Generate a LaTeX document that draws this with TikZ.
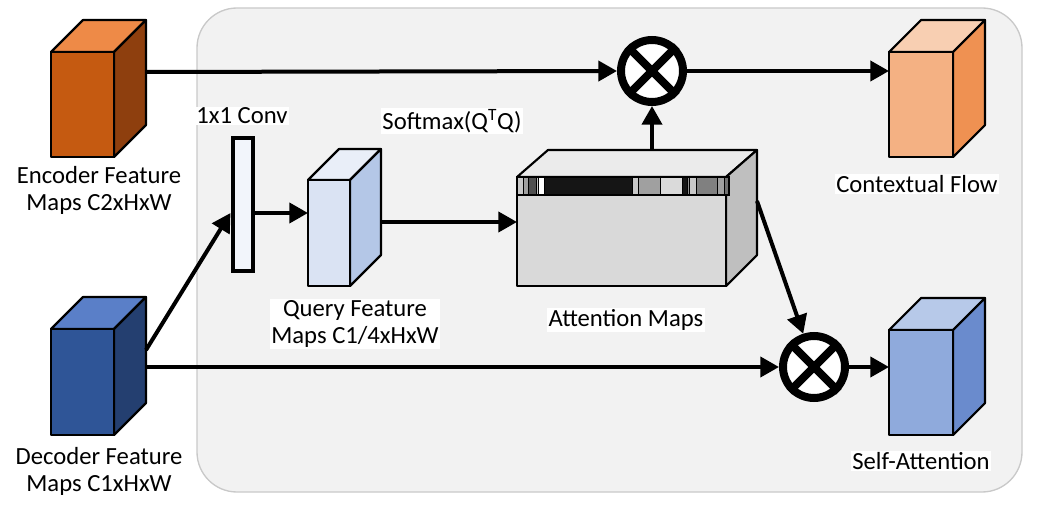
\documentclass[tikz,border=0pt]{standalone}
\usepackage{fontspec}
\setmainfont{Carlito}
\usetikzlibrary{arrows.meta}
\definecolor{encF}{HTML}{C55A11}\definecolor{encT}{HTML}{EE8A47}\definecolor{encS}{HTML}{8E3F0E}
\definecolor{decF}{HTML}{2F5597}\definecolor{decT}{HTML}{5A7FC8}\definecolor{decS}{HTML}{243F70}
\definecolor{ctxF}{HTML}{F4B183}\definecolor{ctxT}{HTML}{F8CFB2}\definecolor{ctxS}{HTML}{EF9152}
\definecolor{selF}{HTML}{8FAADC}\definecolor{selT}{HTML}{B7C9E9}\definecolor{selS}{HTML}{6A8BCD}
\definecolor{qF}{HTML}{DAE3F3}\definecolor{qT}{HTML}{E9EEF8}\definecolor{qS}{HTML}{B4C7E7}
\definecolor{aF}{HTML}{D9D9D9}\definecolor{aT}{HTML}{EBEBEB}\definecolor{aS}{HTML}{BFBFBF}
\definecolor{panel}{HTML}{F2F2F2}\definecolor{panelb}{HTML}{C9C9C9}
\tikzset{
  cubeline/.style={draw=black, line width=1.6pt, line join=round},
  conn/.style={line width=3pt, -{Triangle[length=14pt,width=15pt]}},
  lbl/.style={font=\fontsize{18.5}{20.25}\selectfont, align=center, inner sep=1pt},
  wlbl/.style={lbl, fill=white},
  otimesc/.style={circle, draw=black, fill=white, line width=6pt, minimum size=62*0.75pt, inner sep=0pt},
}
\newcommand{\drawcube}[9]{%
  % #1 name, #2 x, #3 y, #4 w, #5 h, #6 d, #7 front, #8 top, #9 side
  \filldraw[cubeline, fill=#8] (#2,#3) -- ++(#6,-#6) -- ++(#4,0) -- ({#2+#4},#3) -- cycle;
  \filldraw[cubeline, fill=#9] ({#2+#4},#3) -- ++(#6,-#6) -- ++(0,#5) -- ({#2+#4},{#3+#5}) -- cycle;
  \filldraw[cubeline, fill=#7] (#2,#3) rectangle ({#2+#4},{#3+#5});
  \coordinate (#1-nw) at (#2,#3);
}
\begin{document}
\begin{tikzpicture}[x=0.75pt,y=-0.75pt]
\useasboundingbox (0,0) rectangle (1038,516);
% panel
\filldraw[fill=panel, draw=panelb, line width=1pt, rounded corners=30pt] (197,8) rectangle (1022,492);

% cubes
\drawcube{enc}{51}{52}{63}{105}{32}{encF}{encT}{encS}
\drawcube{dec}{51}{329}{63}{106}{32}{decF}{decT}{decS}
\drawcube{ctx}{889}{52}{64}{105}{32}{ctxF}{ctxT}{ctxS}
\drawcube{sel}{889}{330}{64}{105}{32}{selF}{selT}{selS}
\drawcube{qry}{308}{180}{42}{106}{31}{qF}{qT}{qS}

% attention box
\filldraw[cubeline, fill=aT] (517,177) -- (548,150) -- (757,150) -- (726,177) -- cycle;
\filldraw[cubeline, fill=aS] (726,177) -- (757,150) -- (757,255) -- (726,286) -- cycle;
\filldraw[cubeline, fill=aF] (517,177) rectangle (726,286);
\coordinate (att-top) at (652,150);
\coordinate (att-w) at (517,222);
\coordinate (att-e) at (757,201);
% stripe
\begin{scope}[line width=0.6pt]
\foreach \a/\b/\c in {517/523/C8C8C8, 523/528/A0A0A0, 528/536/505050, 536/538/C8C8C8, 538/544/FFFFFF, 544/632/151515, 632/638/C8C8C8, 638/660/A0A0A0, 660/682/DADADA, 682/687/151515, 687/689/909090, 689/696/C8C8C8, 696/717/808080, 717/724/A0A0A0, 724/729/707070}{
  \definecolor{tmpc}{HTML}{\c}
  \filldraw[fill=tmpc, draw=black] (\a,177) rectangle (\b,195);
}
\end{scope}
\draw[line width=1.6pt] (517,177) rectangle (729,195);

% conv
\node[draw=black, line width=3pt, fill=qT!60!white, minimum width=20*0.75pt, minimum height=133*0.75pt, inner sep=0pt] (conv) at (242.5,205) {};

% otimes
\node[otimesc] (m1) at (652,71) {};
\node[otimesc] (m2) at (814,367) {};
\foreach \m in {m1,m2}{
  \draw[line width=6pt] (\m.45) -- (\m.225);
  \draw[line width=6pt] (\m.135) -- (\m.315);
}

% connectors
\coordinate (enc-out) at (146,72);
\coordinate (dec-out) at (146,367);
\coordinate (dec-up) at (146,350);
\draw[conn] (enc-out) -- (m1.west);
\draw[conn] (m1.east) -- (ctx-nw |- m1.east);
\draw[conn] (att-top) -- (m1.south);
\draw[conn] (dec-out) -- (m2.west);
\draw[conn] (m2.east) -- (sel-nw |- m2.east);
\draw[conn] (dec-up) -- (conv.west |- 0,213);
\draw[conn] (conv.east |- 0,213) -- (qry-nw |- 0,213);
\draw[conn] (381,222) -- (att-w);
\draw[conn] (att-e) -- (m2.108);

% labels
\node[lbl] (encl) at (99,190) {Encoder Feature\\Maps C2xHxW};
\node[lbl] (decl) at (99,471) {Decoder Feature\\Maps C1xHxW};
\node[wlbl] (convl) at (242,116) {1x1 Conv};
\node[wlbl] (softl) at (452,121) {Softmax(Q\textsuperscript{T}Q)};
\node[wlbl] (qryl) at (355,324) {Query Feature\\Maps C1/4xHxW};
\node[wlbl] (attl) at (626,320) {Attention Maps};
\node[wlbl] (ctxl) at (917,184) {Contextual Flow};
\node[wlbl] (sell) at (921,461) {Self-Attention};
\end{tikzpicture}
\end{document}
